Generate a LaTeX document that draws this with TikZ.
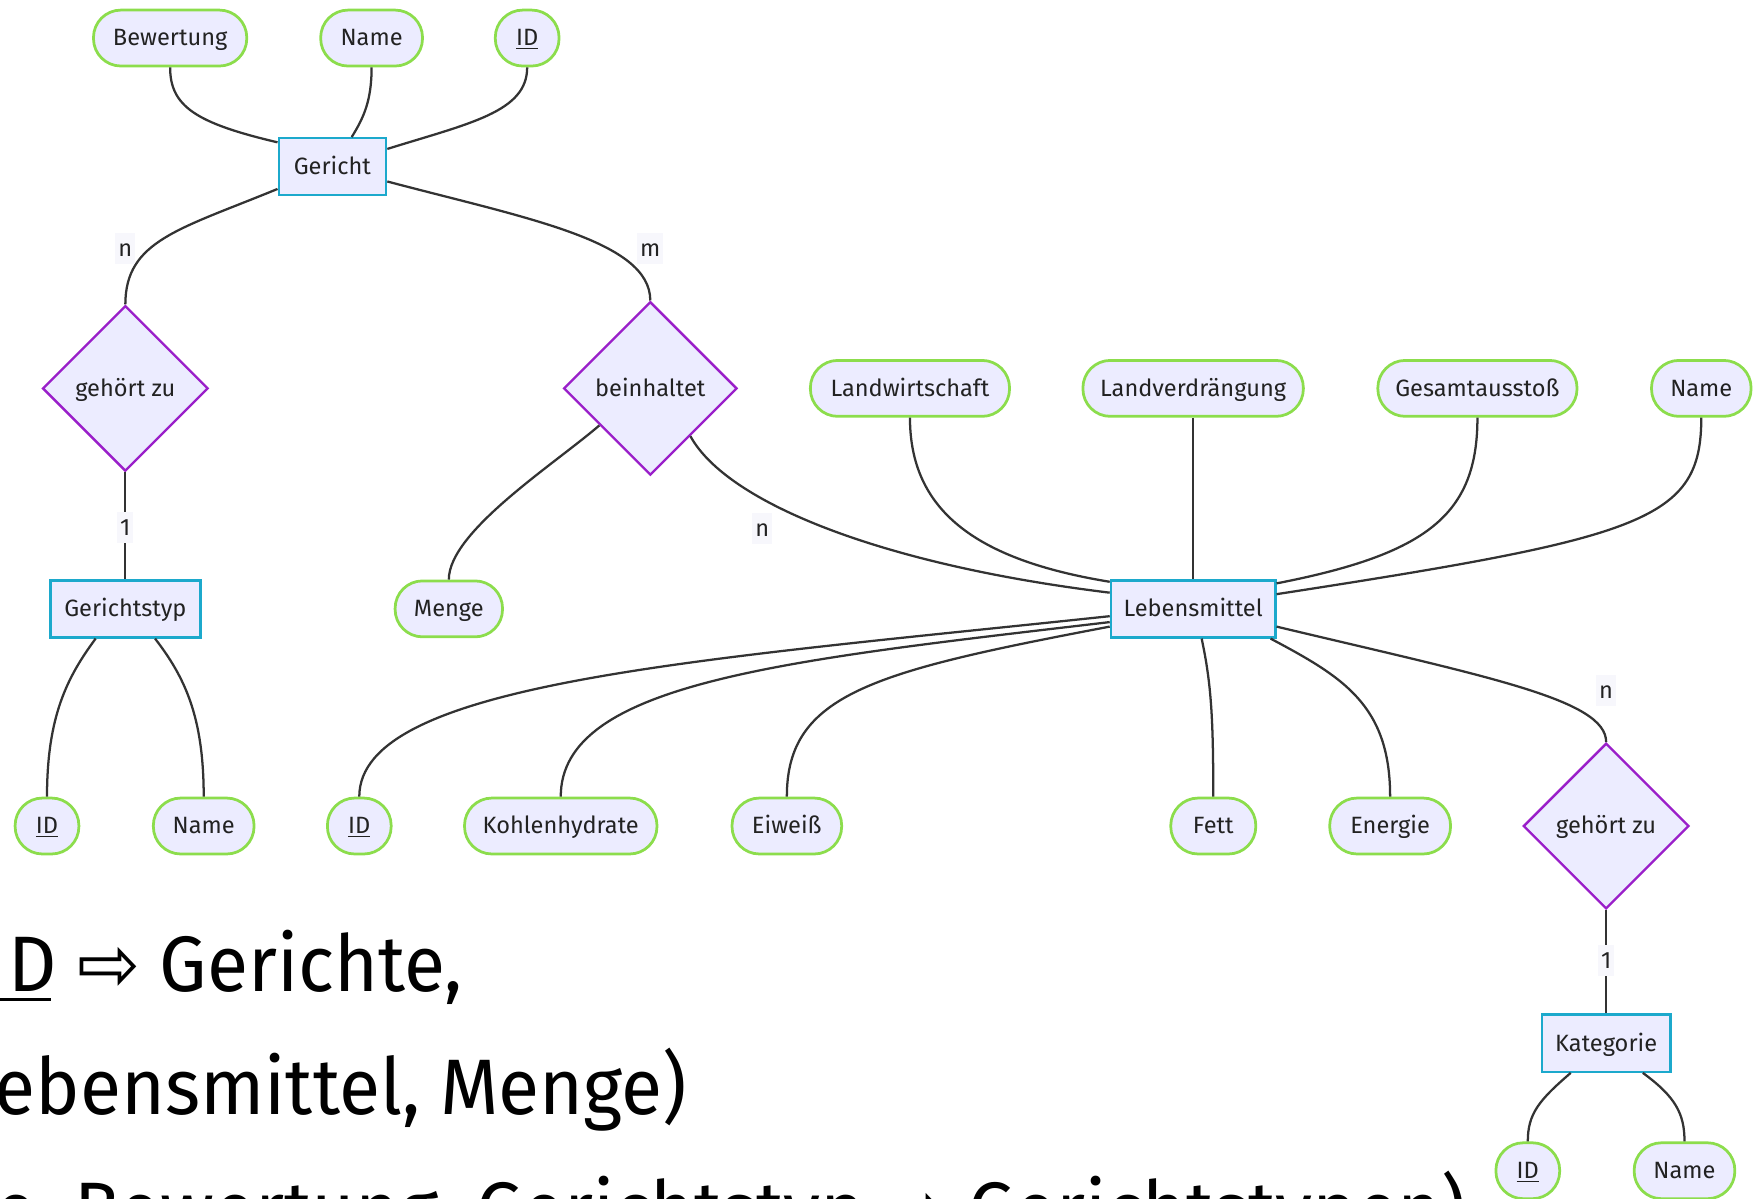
\documentclass[tikz,border=0pt]{standalone}
\usepackage{fontspec}
\setmainfont{Fira Sans}
\newfontfamily\arrowfont{DejaVu Sans}
\usetikzlibrary{shapes.geometric}
\definecolor{nodefill}{HTML}{ECECFF}
\definecolor{attrline}{HTML}{8CDD4C}
\definecolor{entline}{HTML}{1CA9CC}
\definecolor{relline}{HTML}{9A1FC9}
\definecolor{edgecol}{HTML}{333333}
\definecolor{labelbg}{HTML}{F7F7FC}
\definecolor{txt}{HTML}{222222}
\begin{document}
\begin{tikzpicture}[x=0.02cm,y=-0.02cm,
  nfont/.style={font=\fontsize{12}{14}\selectfont, text=txt, text height=9pt, text depth=1pt},
  attr/.style={nfont, draw=attrline, line width=1.4pt, fill=nodefill, rectangle, rounded corners=0.49cm, minimum height=1cm, inner sep=0pt},
  entity/.style={nfont, draw=entline, line width=1.2pt, fill=nodefill, rectangle, minimum height=1.02cm, inner sep=0pt},
  rel/.style={nfont, draw=relline, line width=1.2pt, fill=nodefill, diamond, aspect=1, inner sep=0pt},
  conn/.style={draw=edgecol, line width=1.15pt},
  elabel/.style={nfont, fill=labelbg, inner xsep=1.5pt, inner ysep=0pt, minimum height=0.56cm},
  bigtext/.style={font=\fontsize{40}{48}\selectfont, text=black, inner sep=0pt, anchor=base west}
]
\useasboundingbox (0,0) rectangle (1568,1071);
\clip (0,0) rectangle (1568,1071);

% nodes
\node[attr, minimum width=2.74cm] (bew) at (152,34) {Bewertung};
\node[attr, minimum width=1.82cm] (gname) at (332,34) {Name};
\node[attr, minimum width=1.14cm] (gid) at (471,34) {\underline{ID}};
\node[entity, minimum width=1.92cm] (ger) at (297,149) {Gericht};
\node[rel, minimum width=2.96cm, minimum height=2.96cm] (gz1) at (112,347) {gehört zu};
\node[rel, minimum width=3.1cm, minimum height=3.1cm] (bein) at (581,347) {beinhaltet};
\node[entity, minimum width=2.68cm] (gtyp) at (112,544) {Gerichtstyp};
\node[attr, minimum width=1.92cm] (menge) at (401,544) {Menge};
\node[attr, minimum width=3.56cm] (lw) at (813,347) {Landwirtschaft};
\node[attr, minimum width=3.94cm] (lv) at (1066,347) {Landverdrängung};
\node[attr, minimum width=3.56cm] (ges) at (1320,347) {Gesamtausstoß};
\node[attr, minimum width=1.78cm] (lname) at (1520,347) {Name};
\node[entity, minimum width=2.94cm] (leb) at (1066,544) {Lebensmittel};
\node[attr, minimum width=1.14cm] (tid) at (42,738) {\underline{ID}};
\node[attr, minimum width=1.8cm] (tname) at (182,738) {Name};
\node[attr, minimum width=1.14cm] (lid) at (321,738) {\underline{ID}};
\node[attr, minimum width=3.44cm] (kh) at (501,738) {Kohlenhydrate};
\node[attr, minimum width=1.96cm] (eiw) at (703,738) {Eiweiß};
\node[attr, minimum width=1.52cm] (fett) at (1084,738) {Fett};
\node[attr, minimum width=2.16cm] (en) at (1242,738) {Energie};
\node[rel, minimum width=2.96cm, minimum height=2.96cm] (gz2) at (1435,738) {gehört zu};
\node[entity, minimum width=2.3cm] (kat) at (1435,932) {Kategorie};
\node[attr, minimum width=1.14cm] (kid) at (1365,1046) {\underline{ID}};
\node[attr, minimum width=1.8cm] (kname) at (1505,1046) {Name};

% connectors
\draw[conn] (bew.south) .. controls (152,95) and (175,110) .. (ger.156);
\draw[conn] (gname.south) .. controls (332,90) and (325,105) .. (ger.57);
\draw[conn] (gid.south) .. controls (471,100) and (420,110) .. (ger.18);
\draw[conn] (ger.202) .. controls (160,205) and (112,215) .. (gz1.north);
\draw[conn] (ger.345) .. controls (470,195) and (581,215) .. (bein.north);
\draw[conn] (gz1.south) -- (gtyp.north);
\draw[conn] (gtyp.225) .. controls (60,605) and (42,640) .. (tid.north);
\draw[conn] (gtyp.315) .. controls (165,605) and (182,640) .. (tname.north);
\draw[conn] (bein.216) .. controls (495,415) and (401,475) .. (menge.north);
\draw[conn] (bein.310) .. controls (650,450) and (790,505) .. (leb.169);
\draw[conn] (lw.south) .. controls (813,455) and (870,500) .. (leb.162);
\draw[conn] (lv.south) -- (leb.north);
\draw[conn] (ges.south) .. controls (1320,460) and (1275,495) .. (leb.17);
\draw[conn] (lname.south) .. controls (1520,465) and (1470,480) .. (leb.10);
\draw[conn] (leb.185) .. controls (620,590) and (321,610) .. (lid.north);
\draw[conn] (leb.189) .. controls (700,590) and (501,610) .. (kh.north);
\draw[conn] (leb.192) .. controls (780,600) and (703,620) .. (eiw.north);
\draw[conn] (leb.286) .. controls (1082,610) and (1084,640) .. (fett.north);
\draw[conn] (leb.339) .. controls (1200,605) and (1242,630) .. (en.north);
\draw[conn] (leb.348) .. controls (1330,605) and (1435,625) .. (gz2.north);
\draw[conn] (gz2.south) -- (kat.north);
\draw[conn] (kat.220) .. controls (1375,983) and (1365,995) .. (kid.north);
\draw[conn] (kat.321) .. controls (1497,980) and (1505,995) .. (kname.north);

% edge labels
\node[elabel] (l1) at (112,222) {n};
\node[elabel] (l2) at (581,222) {m};
\node[elabel] (l3) at (112,471) {1};
\node[elabel] (l4) at (681,472) {n};
\node[elabel] (l5) at (1435,617) {n};
\node[elabel] (l6) at (1435,858) {1};

% background text
\node[bigtext] (t1) at (0,886) {\scalebox{0.955}[1]{\rlap{\rule[-4.8pt]{27.2pt}{1.6pt}}\hspace{4.5pt}D {\arrowfont ⇨} Gerichte,}};
\node[bigtext] (t2) at (-5,996) {\scalebox{0.955}[1]{ebensmittel, Menge)}};
\node[bigtext] (t3) at (-4,1106) {\scalebox{0.955}[1]{e, Bewertung, Gerichtstyp {\arrowfont ⇨} Gerichtstypen)}};
\end{tikzpicture}
\end{document}
